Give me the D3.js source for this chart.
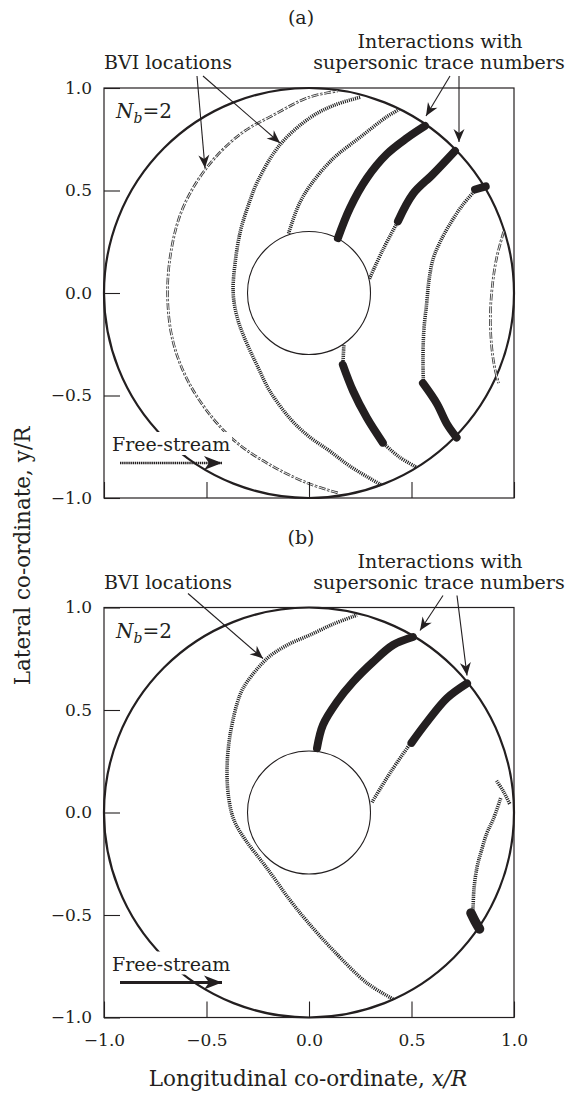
<!DOCTYPE html>
<html>
<head>
<meta charset="utf-8">
<script src="https://cdn.jsdelivr.net/npm/d3@7"></script>
<style>
  body { margin: 0; background: #fff; }
  svg { display: block; }
  text { font-family: "DejaVu Serif", serif; fill: #231f20; }
</style>
</head>
<body>
<svg id="chart" width="567" height="1095"></svg>
<script>
// ---- axis ticks ----
const tickValues = [-1, -0.5, 0, 0.5, 1];
const tickLabels = ["\u22121.0", "\u22120.5", "0.0", "0.5", "1.0"];
const panelNames = ["(a)", "(b)"];
const diskRadius = 1.0;
const hubRadius = 0.3;

// ---- panel (a): BVI traces, x/R and y/R ----
const aOuterTrace = [[0.14,-0.975],[0.0,-0.93],[-0.16,-0.855],[-0.34,-0.74],[-0.47,-0.61],[-0.59,-0.43],[-0.665,-0.23],[-0.69,0.0],[-0.67,0.22],[-0.615,0.415],[-0.5,0.61],[-0.335,0.775],[-0.17,0.87],[0.0,0.955],[0.14,0.985]];
const aSecondTrace = [[0.35,-0.935],[0.2,-0.845],[0.1,-0.77],[0.0,-0.70],[-0.09,-0.615],[-0.19,-0.48],[-0.25,-0.36],[-0.31,-0.23],[-0.35,-0.12],[-0.37,0.0],[-0.36,0.15],[-0.335,0.3],[-0.3,0.416],[-0.25,0.546],[-0.14,0.725],[0.005,0.855],[0.12,0.915],[0.25,0.955]];
const aThirdUpper = [[-0.1,0.29],[-0.05,0.43],[0.01,0.53],[0.117,0.655],[0.25,0.76],[0.38,0.86],[0.44,0.895]];
const aThirdLowerLead = [[0.17,-0.255],[0.165,-0.35]];
const aThirdLowerBand = [[0.165,-0.35],[0.215,-0.478],[0.283,-0.61],[0.36,-0.73]];
const aThirdLowerTail = [[0.36,-0.73],[0.44,-0.80],[0.525,-0.85]];
const aFourthBand = [[0.141,0.268],[0.2,0.415],[0.283,0.561],[0.38,0.678],[0.478,0.756],[0.566,0.815]];
const aFifthLead = [[0.295,0.07],[0.36,0.21],[0.434,0.35]];
const aFifthBand = [[0.434,0.35],[0.507,0.483],[0.605,0.58],[0.712,0.693]];
const aSixthTip = [[0.81,0.505],[0.862,0.52]];
const aSixthTrace = [[0.81,0.5],[0.75,0.43],[0.688,0.337],[0.64,0.25],[0.605,0.165],[0.585,0.06],[0.574,-0.05],[0.56,-0.185],[0.556,-0.33],[0.558,-0.43]];
const aSixthBand = [[0.556,-0.44],[0.624,-0.54],[0.673,-0.639],[0.72,-0.705]];
const aRightTrace = [[0.95,0.30],[0.915,0.17],[0.895,0.04],[0.885,-0.1],[0.89,-0.25],[0.905,-0.36],[0.925,-0.44]];

// ---- panel (b): BVI traces ----
const bMainTrace = [[0.41,-0.91],[0.283,-0.832],[0.117,-0.671],[-0.01,-0.53],[-0.093,-0.427],[-0.21,-0.265],[-0.31,-0.134],[-0.365,-0.04],[-0.39,0.06],[-0.4,0.2],[-0.385,0.378],[-0.337,0.573],[-0.3,0.64],[-0.2,0.755],[-0.1,0.82],[0.005,0.866],[0.12,0.92],[0.234,0.963]];
const bFirstBand = [[0.039,0.314],[0.068,0.427],[0.136,0.539],[0.215,0.637],[0.312,0.734],[0.41,0.817],[0.507,0.856]];
const bSecondLead = [[0.307,0.05],[0.4,0.2],[0.49,0.33]];
const bSecondBand = [[0.5,0.34],[0.576,0.442],[0.673,0.558],[0.771,0.63]];
const bRightUpper = [[0.915,0.155],[0.95,0.1],[0.98,0.04]];
const bRightTrace = [[0.935,0.07],[0.9,-0.03],[0.868,-0.1],[0.84,-0.19],[0.82,-0.265],[0.805,-0.37],[0.8,-0.476]];
const bRightBlob = [[0.79,-0.49],[0.81,-0.53],[0.832,-0.568]];

const panels = [
  { name: panelNames[0], top: 88, arrowStyle: "dotted",
    traces: [
      { pts: aOuterTrace, kind: "double" },
      { pts: aSecondTrace, kind: "hatch" },
      { pts: aThirdUpper, kind: "hatch" },
      { pts: aThirdLowerLead, kind: "hatch" },
      { pts: aThirdLowerTail, kind: "hatch" },
      { pts: aFifthLead, kind: "hatch" },
      { pts: aSixthTrace, kind: "hatch" },
      { pts: aRightTrace, kind: "double" },
      { pts: aThirdLowerBand, kind: "thick" },
      { pts: aFourthBand, kind: "thick" },
      { pts: aFifthBand, kind: "thick" },
      { pts: aSixthTip, kind: "thick" },
      { pts: aSixthBand, kind: "thick" }
    ],
    bviArrows: [[[93, -12], [101, 80]], [[99, -12], [176, 55]]],
    tipArrows: [[[346, -12], [322, 28]], [[355, -12], [355, 54]]]
  },
  { name: panelNames[1], top: 607.5, arrowStyle: "solid",
    traces: [
      { pts: bMainTrace, kind: "hatch" },
      { pts: bSecondLead, kind: "hatch" },
      { pts: bRightUpper, kind: "hatch" },
      { pts: bRightTrace, kind: "hatch" },
      { pts: bFirstBand, kind: "thick" },
      { pts: bSecondBand, kind: "thick" },
      { pts: bRightBlob, kind: "blob" }
    ],
    bviArrows: [[[84, -14], [159, 51]]],
    tipArrows: [[[339, -12], [316, 23]], [[353, -12], [363, 68]]]
  }
];

const svg = d3.select("#chart");
const W = 410, H = 410, left = 104;
const x = d3.scaleLinear().domain([-1, 1]).range([0, W]);
const y = d3.scaleLinear().domain([-1, 1]).range([H, 0]);
const ink = "#231f20";

const defs = svg.append("defs");
defs.append("marker").attr("id", "head").attr("viewBox", "-14 -6 16 12")
  .attr("refX", 0).attr("refY", 0).attr("markerWidth", 16).attr("markerHeight", 12)
  .attr("markerUnits", "userSpaceOnUse").attr("orient", "auto")
  .append("path").attr("d", "M0,0 L-13,-5.5 L-9,0 L-13,5.5 Z").attr("fill", ink);
defs.append("marker").attr("id", "bighead").attr("viewBox", "-20 -8 22 16")
  .attr("refX", 0).attr("refY", 0).attr("markerWidth", 22).attr("markerHeight", 16)
  .attr("markerUnits", "userSpaceOnUse").attr("orient", "auto")
  .append("path").attr("d", "M0,0 L-18,-7 L-13,0 L-18,7 Z").attr("fill", ink);

const line = d3.line().x(d => x(d[0])).y(d => y(d[1])).curve(d3.curveCatmullRom.alpha(0.5));

panels.forEach(p => {
  const g = svg.append("g").attr("transform", `translate(${left},${p.top})`);

  // panel letter and annotation text
  g.append("text").attr("x", 197).attr("y", -64).attr("text-anchor", "middle")
    .attr("font-size", 19).text(p.name);
  g.append("text").attr("x", 64).attr("y", -19).attr("text-anchor", "middle")
    .attr("font-size", 19).text("BVI locations");
  g.append("text").attr("x", 336).attr("y", -40).attr("text-anchor", "middle")
    .attr("font-size", 19).text("Interactions with");
  g.append("text").attr("x", 335).attr("y", -19).attr("text-anchor", "middle")
    .attr("font-size", 19).text("supersonic trace numbers");

  // rotor disk and hub
  g.append("circle").attr("cx", x(0)).attr("cy", y(0)).attr("r", x(diskRadius) - x(0))
    .attr("fill", "none").attr("stroke", ink).attr("stroke-width", 2.2);
  g.append("circle").attr("cx", x(0)).attr("cy", y(0)).attr("r", x(hubRadius) - x(0))
    .attr("fill", "none").attr("stroke", ink).attr("stroke-width", 1.1);

  // BVI traces
  p.traces.forEach(t => {
    const d = line(t.pts);
    if (t.kind === "double") {
      g.append("path").attr("d", d).attr("fill", "none").attr("stroke", "#3a3a3a")
        .attr("stroke-width", 2.6).attr("stroke-dasharray", "7,1.6,2.5,1.6");
      g.append("path").attr("d", d).attr("fill", "none").attr("stroke", "#fff")
        .attr("stroke-width", 0.9);
    } else if (t.kind === "hatch") {
      g.append("path").attr("d", d).attr("fill", "none").attr("stroke", "#222")
        .attr("stroke-width", 3.6).attr("stroke-dasharray", "1.1,1.0");
    } else if (t.kind === "thick") {
      g.append("path").attr("d", d).attr("fill", "none").attr("stroke", ink)
        .attr("stroke-width", 8).attr("stroke-linecap", "round").attr("stroke-linejoin", "round");
    } else {
      g.append("path").attr("d", d).attr("fill", "none").attr("stroke", ink)
        .attr("stroke-width", 9.5).attr("stroke-linecap", "round").attr("stroke-linejoin", "round");
    }
  });

  // free-stream label with a white backing that breaks the disk outline
  g.append("rect").attr("x", 6).attr("y", 344).attr("width", 122).attr("height", 23).attr("fill", "#fff");
  g.append("text").attr("x", 8).attr("y", 363).attr("font-size", 19).text("Free-stream");
  const fs = g.append("line").attr("x1", 16).attr("x2", 118).attr("y1", 375).attr("y2", 375)
    .attr("stroke", ink).attr("stroke-width", p.arrowStyle === "solid" ? 3.2 : 2.6)
    .attr("marker-end", "url(#bighead)");
  if (p.arrowStyle === "dotted") fs.attr("stroke-dasharray", "1.4,0.7");

  // leader arrows
  [...p.bviArrows, ...p.tipArrows].forEach(a => {
    g.append("line").attr("x1", a[0][0]).attr("y1", a[0][1]).attr("x2", a[1][0]).attr("y2", a[1][1])
      .attr("stroke", ink).attr("stroke-width", 1.1).attr("marker-end", "url(#head)");
  });

  // N_b label
  const nb = g.append("text").attr("x", 12).attr("y", 30).attr("font-size", 20);
  nb.append("tspan").attr("font-style", "italic").text("N");
  nb.append("tspan").attr("font-style", "italic").attr("font-size", 14).attr("dy", 5).text("b");
  nb.append("tspan").attr("dy", -5).text("=2");

  // frame
  g.append("rect").attr("x", 0).attr("y", 0).attr("width", W).attr("height", H)
    .attr("fill", "none").attr("stroke", ink).attr("stroke-width", 1.2);

  // axes with inward ticks
  const yAxis = d3.axisLeft(y).tickValues(tickValues).tickSize(-16).tickSizeOuter(0).tickPadding(12)
    .tickFormat((d, i) => tickLabels[i]);
  const ya = g.append("g").call(yAxis);
  ya.select(".domain").remove();
  ya.selectAll("line").attr("stroke", ink).attr("stroke-width", 1.1);
  ya.selectAll("text").attr("font-size", 17).attr("font-family", "DejaVu Serif").attr("fill", ink);

  const xAxis = d3.axisBottom(x).tickValues(tickValues).tickSize(-16).tickSizeOuter(0).tickPadding(16)
    .tickFormat((d, i) => tickLabels[i]);
  const xa = g.append("g").attr("transform", `translate(0,${H})`).call(xAxis);
  xa.select(".domain").remove();
  xa.selectAll("line").attr("stroke", ink).attr("stroke-width", 1.1);
  xa.selectAll("text").attr("font-size", 17).attr("font-family", "DejaVu Serif").attr("fill", ink);
  if (p.name === panelNames[0]) xa.selectAll("text").remove();
});

// axis titles
svg.append("text").attr("transform", "translate(30,556) rotate(-90)").attr("text-anchor", "middle")
  .attr("font-size", 21.5).text("Lateral co-ordinate, y/R");
const xt = svg.append("text").attr("x", 308).attr("y", 1086).attr("text-anchor", "middle").attr("font-size", 21.5);
xt.append("tspan").text("Longitudinal co-ordinate, ");
xt.append("tspan").attr("font-style", "italic").text("x/R");
</script>
</body>
</html>
